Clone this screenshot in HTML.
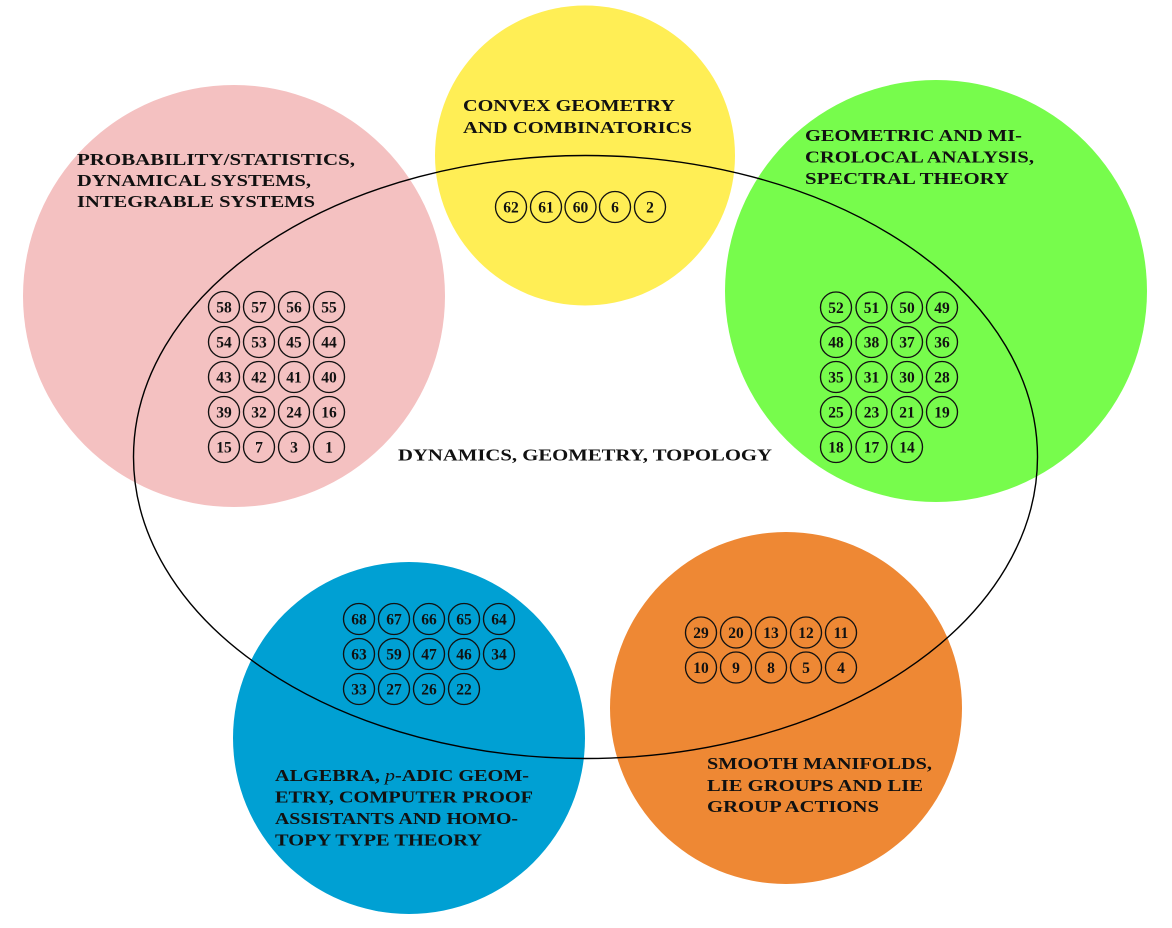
<!DOCTYPE html>
<html>
<head>
<meta charset="utf-8">
<style>
html,body{margin:0;padding:0;background:#fff;}
svg{display:block;}
.lbl{font-family:"Liberation Serif",serif;font-weight:bold;font-size:16.5px;fill:#111;}
.n circle{fill:none;stroke:#111;stroke-width:1.35;}
.n text{font-family:"Liberation Serif",serif;font-weight:bold;font-size:15.5px;fill:#111;text-anchor:middle;}
</style>
</head>
<body>
<svg width="1172" height="928" viewBox="0 0 1172 928" xmlns="http://www.w3.org/2000/svg">
<rect width="1172" height="928" fill="#fff"/>
<circle cx="234" cy="296" r="211" fill="#f4c1c1"/>
<circle cx="585" cy="155.5" r="150" fill="#ffee55"/>
<circle cx="936" cy="291" r="211" fill="#77fc4c"/>
<circle cx="409" cy="738" r="176" fill="#00a0d3"/>
<circle cx="786" cy="708" r="176" fill="#ee8834"/>
<ellipse cx="585.5" cy="457" rx="452" ry="301.5" fill="none" stroke="#000" stroke-width="1.4"/>

<!-- labels -->
<text class="lbl" x="77" y="165" textLength="278" lengthAdjust="spacingAndGlyphs">PROBABILITY/STATISTICS,</text>
<text class="lbl" x="77" y="186" textLength="234" lengthAdjust="spacingAndGlyphs">DYNAMICAL SYSTEMS,</text>
<text class="lbl" x="77" y="207" textLength="238" lengthAdjust="spacingAndGlyphs">INTEGRABLE SYSTEMS</text>

<text class="lbl" x="463" y="111" textLength="212" lengthAdjust="spacingAndGlyphs">CONVEX GEOMETRY</text>
<text class="lbl" x="463" y="133" textLength="229" lengthAdjust="spacingAndGlyphs">AND COMBINATORICS</text>

<text class="lbl" x="805" y="141" textLength="217" lengthAdjust="spacingAndGlyphs">GEOMETRIC AND MI-</text>
<text class="lbl" x="805" y="162.5" textLength="229" lengthAdjust="spacingAndGlyphs">CROLOCAL ANALYSIS,</text>
<text class="lbl" x="805" y="184" textLength="204" lengthAdjust="spacingAndGlyphs">SPECTRAL THEORY</text>

<text class="lbl" x="398" y="460.5" textLength="374" lengthAdjust="spacingAndGlyphs">DYNAMICS, GEOMETRY, TOPOLOGY</text>

<text class="lbl" x="275" y="781" textLength="254" lengthAdjust="spacingAndGlyphs">ALGEBRA, <tspan font-style="italic" font-weight="normal">p</tspan>-ADIC GEOM-</text>
<text class="lbl" x="275" y="802.5" textLength="258" lengthAdjust="spacingAndGlyphs">ETRY, COMPUTER PROOF</text>
<text class="lbl" x="275" y="824" textLength="243" lengthAdjust="spacingAndGlyphs">ASSISTANTS AND HOMO-</text>
<text class="lbl" x="275" y="845.5" textLength="207" lengthAdjust="spacingAndGlyphs">TOPY TYPE THEORY</text>

<text class="lbl" x="707" y="769" textLength="225" lengthAdjust="spacingAndGlyphs">SMOOTH MANIFOLDS,</text>
<text class="lbl" x="707" y="791" textLength="216" lengthAdjust="spacingAndGlyphs">LIE GROUPS AND LIE</text>
<text class="lbl" x="707" y="812" textLength="172" lengthAdjust="spacingAndGlyphs">GROUP ACTIONS</text>

<!-- numbered circles -->
<g class="n">
<!-- pink -->
<circle cx="224" cy="307" r="15.5"/><text x="224" y="312.5">58</text>
<circle cx="259" cy="307" r="15.5"/><text x="259" y="312.5">57</text>
<circle cx="294" cy="307" r="15.5"/><text x="294" y="312.5">56</text>
<circle cx="329" cy="307" r="15.5"/><text x="329" y="312.5">55</text>
<circle cx="224" cy="342" r="15.5"/><text x="224" y="347.5">54</text>
<circle cx="259" cy="342" r="15.5"/><text x="259" y="347.5">53</text>
<circle cx="294" cy="342" r="15.5"/><text x="294" y="347.5">45</text>
<circle cx="329" cy="342" r="15.5"/><text x="329" y="347.5">44</text>
<circle cx="224" cy="377" r="15.5"/><text x="224" y="382.5">43</text>
<circle cx="259" cy="377" r="15.5"/><text x="259" y="382.5">42</text>
<circle cx="294" cy="377" r="15.5"/><text x="294" y="382.5">41</text>
<circle cx="329" cy="377" r="15.5"/><text x="329" y="382.5">40</text>
<circle cx="224" cy="412" r="15.5"/><text x="224" y="417.5">39</text>
<circle cx="259" cy="412" r="15.5"/><text x="259" y="417.5">32</text>
<circle cx="294" cy="412" r="15.5"/><text x="294" y="417.5">24</text>
<circle cx="329" cy="412" r="15.5"/><text x="329" y="417.5">16</text>
<circle cx="224" cy="447" r="15.5"/><text x="224" y="452.5">15</text>
<circle cx="259" cy="447" r="15.5"/><text x="259" y="452.5">7</text>
<circle cx="294" cy="447" r="15.5"/><text x="294" y="452.5">3</text>
<circle cx="329" cy="447" r="15.5"/><text x="329" y="452.5">1</text>
<!-- yellow -->
<circle cx="511" cy="207" r="15.5"/><text x="511" y="212.5">62</text>
<circle cx="546" cy="207" r="15.5"/><text x="546" y="212.5">61</text>
<circle cx="580.5" cy="207" r="15.5"/><text x="580.5" y="212.5">60</text>
<circle cx="615" cy="207" r="15.5"/><text x="615" y="212.5">6</text>
<circle cx="650" cy="207" r="15.5"/><text x="650" y="212.5">2</text>
<!-- green -->
<circle cx="836" cy="307.5" r="15.5"/><text x="836" y="313">52</text>
<circle cx="871.5" cy="307.5" r="15.5"/><text x="871.5" y="313">51</text>
<circle cx="907" cy="307.5" r="15.5"/><text x="907" y="313">50</text>
<circle cx="942" cy="307.5" r="15.5"/><text x="942" y="313">49</text>
<circle cx="836" cy="342" r="15.5"/><text x="836" y="347.5">48</text>
<circle cx="871.5" cy="342" r="15.5"/><text x="871.5" y="347.5">38</text>
<circle cx="907" cy="342" r="15.5"/><text x="907" y="347.5">37</text>
<circle cx="942" cy="342" r="15.5"/><text x="942" y="347.5">36</text>
<circle cx="836" cy="377" r="15.5"/><text x="836" y="382.5">35</text>
<circle cx="871.5" cy="377" r="15.5"/><text x="871.5" y="382.5">31</text>
<circle cx="907" cy="377" r="15.5"/><text x="907" y="382.5">30</text>
<circle cx="942" cy="377" r="15.5"/><text x="942" y="382.5">28</text>
<circle cx="836" cy="412" r="15.5"/><text x="836" y="417.5">25</text>
<circle cx="871.5" cy="412" r="15.5"/><text x="871.5" y="417.5">23</text>
<circle cx="907" cy="412" r="15.5"/><text x="907" y="417.5">21</text>
<circle cx="942" cy="412" r="15.5"/><text x="942" y="417.5">19</text>
<circle cx="836" cy="447" r="15.5"/><text x="836" y="452.5">18</text>
<circle cx="871.5" cy="447" r="15.5"/><text x="871.5" y="452.5">17</text>
<circle cx="907" cy="447" r="15.5"/><text x="907" y="452.5">14</text>
<!-- blue -->
<circle cx="359" cy="619" r="15.5"/><text x="359" y="624.5">68</text>
<circle cx="394" cy="619" r="15.5"/><text x="394" y="624.5">67</text>
<circle cx="429" cy="619" r="15.5"/><text x="429" y="624.5">66</text>
<circle cx="464" cy="619" r="15.5"/><text x="464" y="624.5">65</text>
<circle cx="499" cy="619" r="15.5"/><text x="499" y="624.5">64</text>
<circle cx="359" cy="654" r="15.5"/><text x="359" y="659.5">63</text>
<circle cx="394" cy="654" r="15.5"/><text x="394" y="659.5">59</text>
<circle cx="429" cy="654" r="15.5"/><text x="429" y="659.5">47</text>
<circle cx="464" cy="654" r="15.5"/><text x="464" y="659.5">46</text>
<circle cx="499" cy="654" r="15.5"/><text x="499" y="659.5">34</text>
<circle cx="359" cy="689" r="15.5"/><text x="359" y="694.5">33</text>
<circle cx="394" cy="689" r="15.5"/><text x="394" y="694.5">27</text>
<circle cx="429" cy="689" r="15.5"/><text x="429" y="694.5">26</text>
<circle cx="464" cy="689" r="15.5"/><text x="464" y="694.5">22</text>
<!-- orange -->
<circle cx="701" cy="632.5" r="15.5"/><text x="701" y="638">29</text>
<circle cx="736" cy="632.5" r="15.5"/><text x="736" y="638">20</text>
<circle cx="771" cy="632.5" r="15.5"/><text x="771" y="638">13</text>
<circle cx="806" cy="632.5" r="15.5"/><text x="806" y="638">12</text>
<circle cx="841" cy="632.5" r="15.5"/><text x="841" y="638">11</text>
<circle cx="701" cy="667.5" r="15.5"/><text x="701" y="673">10</text>
<circle cx="736" cy="667.5" r="15.5"/><text x="736" y="673">9</text>
<circle cx="771" cy="667.5" r="15.5"/><text x="771" y="673">8</text>
<circle cx="806" cy="667.5" r="15.5"/><text x="806" y="673">5</text>
<circle cx="841" cy="667.5" r="15.5"/><text x="841" y="673">4</text>
</g>
</svg>
</body>
</html>
